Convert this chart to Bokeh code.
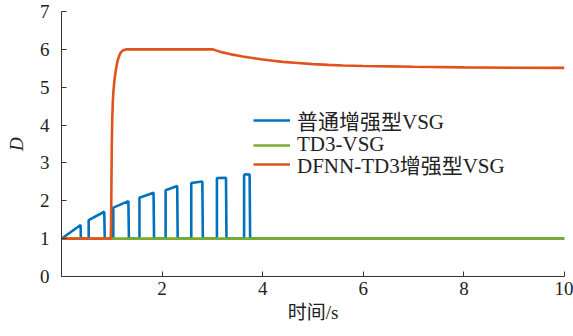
from bokeh.plotting import figure
from bokeh.models import Range1d, Legend, LegendItem, FixedTicker
from bokeh.embed import file_html
from bokeh.resources import INLINE

# ---- data ----
x_ticks = [2, 4, 6, 8, 10]
y_ticks = [0, 1, 2, 3, 4, 5, 6, 7]

blue_label = "普通增强型VSG"
blue_t = [0, 0.38, 0.385, 0.54, 0.54, 0.85, 0.86, 1.03, 1.03, 1.33, 1.34, 1.55, 1.55,
          1.83, 1.84, 2.07, 2.07, 2.30, 2.31, 2.58, 2.58, 2.80, 2.81, 3.09, 3.09,
          3.27, 3.28, 3.63, 3.63, 3.66, 3.74, 3.75, 10]
blue_d = [1, 1.36, 1, 1, 1.49, 1.71, 1, 1, 1.82, 1.99, 1, 1, 2.08,
          2.21, 1, 1, 2.28, 2.39, 1, 1, 2.47, 2.51, 1, 1, 2.60,
          2.61, 1, 1, 2.68, 2.70, 2.69, 1, 1]

green_label = "TD3-VSG"
green_t = [0, 10]
green_d = [1, 1]

red_label = "DFNN-TD3增强型VSG"
red_t = [0, 0.98, 0.985, 0.99, 0.995, 1.0, 1.01, 1.02, 1.03, 1.045, 1.06, 1.08, 1.1,
         1.12, 1.15, 1.18, 1.22, 1.26, 1.3, 3.0, 3.1, 3.2, 3.3, 3.4, 3.5, 3.6,
         3.8, 4.0, 4.2, 4.4, 4.7, 5.0, 5.3, 5.6, 6.0, 6.5, 7.0, 8.0, 9.0, 10.0]
red_d = [1, 1, 1.3, 2.0, 2.8, 3.5, 4.2, 4.6, 4.85, 5.08, 5.26, 5.45, 5.6,
         5.72, 5.84, 5.92, 5.97, 5.99, 6.0, 6.0, 5.96, 5.92, 5.89, 5.86, 5.84, 5.81,
         5.77, 5.73, 5.70, 5.67, 5.64, 5.61, 5.59, 5.575, 5.56, 5.55, 5.54, 5.525, 5.515, 5.51]

x_label = "时间/s"
y_label = "D"

BLUE = "#0072BD"
GREEN = "#77AC30"
RED = "#E0531B"
AXIS = "#333333"
SERIF = "'Liberation Serif', 'Noto Sans CJK SC'"

p = figure(width=573, height=336, output_backend="svg", toolbar_location=None,
           x_range=Range1d(0, 10), y_range=Range1d(0, 7))
p.min_border_left = 61
p.min_border_right = 9
p.min_border_top = 11
p.min_border_bottom = 60
p.outline_line_color = None
p.background_fill_color = "white"
p.border_fill_color = "white"
p.xgrid.visible = False
p.ygrid.visible = False

for ax in (p.xaxis[0], p.yaxis[0]):
    ax.axis_line_color = AXIS
    ax.axis_line_width = 1
    ax.major_tick_line_color = AXIS
    ax.major_tick_in = 5
    ax.major_tick_out = 0
    ax.minor_tick_line_color = None
    ax.major_label_text_font = SERIF
    ax.major_label_text_font_size = "19px"
    ax.major_label_text_color = "#222222"
    ax.axis_label_text_font = SERIF
    ax.axis_label_text_font_size = "19px"
    ax.axis_label_text_color = "#222222"
    ax.axis_label_text_font_style = "normal"

p.xaxis.ticker = FixedTicker(ticks=x_ticks)
p.yaxis.ticker = FixedTicker(ticks=y_ticks)
p.xaxis.axis_label = x_label
p.yaxis.axis_label = y_label
p.yaxis.axis_label_text_font_style = "italic"
p.xaxis.major_label_standoff = 5
p.yaxis.major_label_standoff = 12
p.xaxis.axis_label_standoff = 4
p.yaxis.axis_label_standoff = 10

rb = p.line(blue_t, blue_d, line_color=BLUE, line_width=2.6)
rg = p.line(green_t, green_d, line_color=GREEN, line_width=2.6)
rr = p.line(red_t, red_d, line_color=RED, line_width=2.6)

for label, r, ypos in ((blue_label, rb, 141), (green_label, rg, 119), (red_label, rr, 97)):
    lg = Legend(items=[LegendItem(label=label, renderers=[r])], location=(192, ypos))
    lg.border_line_color = None
    lg.background_fill_alpha = 0
    lg.padding = 0
    lg.margin = 0
    lg.spacing = 0
    lg.label_height = 22
    lg.glyph_height = 22
    lg.glyph_width = 37
    lg.label_standoff = 7
    lg.label_text_font = SERIF
    lg.label_text_font_size = "21px"
    lg.label_text_color = "#222222"
    p.add_layout(lg, "center")

open("out.html", "w").write(file_html(p, INLINE))
